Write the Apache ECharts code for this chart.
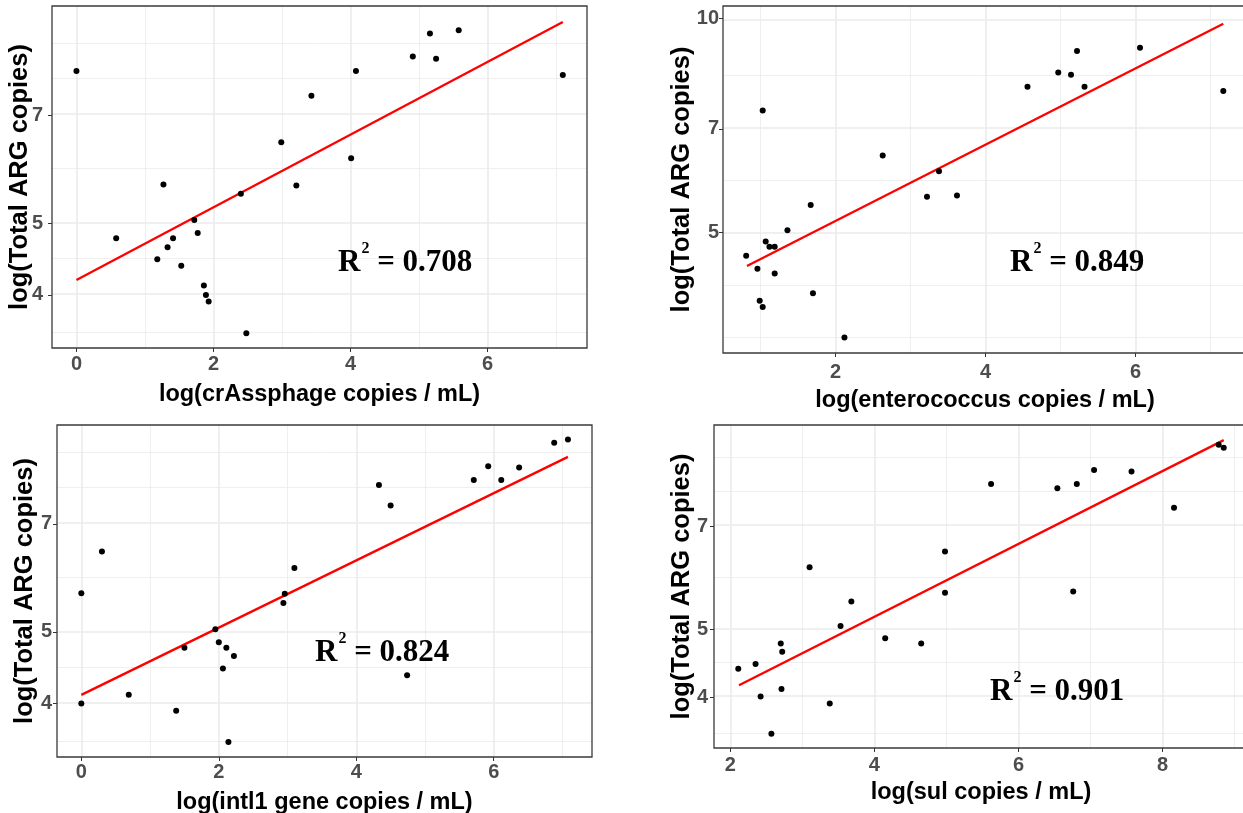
<!DOCTYPE html>
<html><head><meta charset="utf-8">
<script src="https://cdn.jsdelivr.net/npm/echarts@6/dist/echarts.min.js"></script>
<style>html,body{margin:0;padding:0;background:#fff}#c{width:1243px;height:813px}</style>
</head><body><div id="c"></div><script>
// ---------- DATA ----------
const yTitle = 'log(Total ARG copies)';

// Panel 1: crAssphage
const p1XName = 'log(crAssphage copies / mL)';
const p1X = [0, 0.58, 1.27, 1.18, 1.33, 1.41, 1.53, 1.72, 1.77, 1.86, 1.89, 1.93, 2.40, 2.48, 2.99, 3.21, 3.43, 4.01, 4.08, 4.91, 5.16, 5.25, 5.58, 7.10];
const p1Y = [8.03, 4.77, 5.64, 4.47, 4.64, 4.77, 4.38, 5.05, 4.85, 4.12, 4.00, 3.92, 5.48, 3.55, 6.43, 5.62, 7.43, 6.12, 8.03, 8.40, 9.02, 8.34, 9.11, 7.93];
const p1FitX = [0, 7.10];
const p1FitY = [4.19, 9.35];
const p1XTicks = [0, 2, 4, 6];
const p1YTicks = [4, 5, 7];
const p1XLim = [-0.357, 7.453];
const p1YLim = [3.391, 9.826];
const p1R2 = '0.708';

// Panel 2: enterococcus
const p2XName = 'log(enterococcus copies / mL)';
const p2X = [0.81, 0.96, 0.99, 1.03, 1.03, 1.07, 1.12, 1.19, 1.19, 1.36, 1.67, 1.70, 2.12, 2.63, 3.22, 3.38, 3.62, 4.56, 4.97, 5.14, 5.22, 5.32, 6.06, 7.17];
const p2Y = [4.64, 4.45, 4.01, 3.93, 7.43, 4.86, 4.78, 4.78, 4.38, 5.04, 5.47, 4.11, 3.56, 6.42, 5.62, 6.10, 5.64, 8.02, 8.40, 8.34, 9.01, 8.02, 9.10, 7.91];
const p2FitX = [0.82, 7.17];
const p2FitY = [4.49, 9.84];
const p2XTicks = [2, 4, 6];
const p2YTicks = [5, 7, 10];
const p2XLim = [0.501, 7.486];
const p2YLim = [3.387, 10.42];
const p2R2 = '0.849';

// Panel 3: intl1
const p3XName = 'log(intl1 gene copies / mL)';
const p3X = [0, 0, 0.30, 0.69, 1.38, 1.50, 1.95, 2.00, 2.06, 2.11, 2.14, 2.22, 2.94, 2.96, 3.10, 4.33, 4.50, 4.74, 5.71, 5.92, 6.11, 6.37, 6.88, 7.08];
const p3Y = [5.64, 4.00, 6.42, 4.11, 3.91, 4.76, 5.04, 4.84, 4.46, 4.76, 3.55, 4.64, 5.47, 5.63, 6.10, 7.90, 7.41, 4.37, 8.02, 8.37, 8.02, 8.34, 9.01, 9.10];
const p3FitX = [0, 7.08];
const p3FitY = [4.11, 8.62];
const p3XTicks = [0, 2, 4, 6];
const p3YTicks = [4, 5, 7];
const p3XLim = [-0.354, 7.43];
const p3YLim = [3.387, 9.52];
const p3R2 = '0.824';

// Panel 4: sul
const p4XName = 'log(sul copies / mL)';
const p4X = [2.11, 2.35, 2.42, 2.57, 2.70, 2.72, 2.71, 3.10, 3.38, 3.53, 3.68, 4.15, 4.65, 4.98, 4.98, 5.62, 6.54, 6.76, 6.81, 7.05, 7.57, 8.16, 8.78, 8.85];
const p4Y = [4.39, 4.46, 4.01, 3.55, 4.77, 4.64, 4.11, 6.12, 3.92, 5.05, 5.47, 4.85, 4.77, 6.44, 5.63, 8.03, 7.92, 5.65, 8.03, 8.41, 8.37, 7.43, 9.13, 9.04];
const p4FitX = [2.12, 8.85];
const p4FitY = [4.16, 9.27];
const p4XTicks = [2, 4, 6, 8];
const p4YTicks = [4, 5, 7];
const p4XLim = [1.773, 9.187];
const p4YLim = [3.389, 9.74];
const p4R2 = '0.901';

// ---------- LAYOUT ----------
const layout = [
  {grid: {left: 52, top: 6, width: 535, height: 342}, yGap: 19, yLabM: 9, xLabM: 6, xGap: 35, r2: [338, 262.5]},
  {grid: {left: 723, top: 6, width: 524, height: 347}, yGap: 28, yLabM: 4, xLabM: 9, xGap: 36, r2: [1010, 262.5]},
  {grid: {left: 57, top: 425, width: 535, height: 332}, yGap: 19, yLabM: 5, xLabM: 5, xGap: 34, r2: [315, 652.5]},
  {grid: {left: 714, top: 425, width: 534, height: 323}, yGap: 19, yLabM: 6, xLabM: 7, xGap: 33, r2: [990, 691.5]}
];

const panels = [
  {x: p1X, y: p1Y, fx: p1FitX, fy: p1FitY, xt: p1XTicks, yt: p1YTicks, xl: p1XLim, yl: p1YLim, xName: p1XName, r2: p1R2},
  {x: p2X, y: p2Y, fx: p2FitX, fy: p2FitY, xt: p2XTicks, yt: p2YTicks, xl: p2XLim, yl: p2YLim, xName: p2XName, r2: p2R2},
  {x: p3X, y: p3Y, fx: p3FitX, fy: p3FitY, xt: p3XTicks, yt: p3YTicks, xl: p3XLim, yl: p3YLim, xName: p3XName, r2: p3R2},
  {x: p4X, y: p4Y, fx: p4FitX, fy: p4FitY, xt: p4XTicks, yt: p4YTicks, xl: p4XLim, yl: p4YLim, xName: p4XName, r2: p4R2}
];

const T = Math.log;   // y axis is a log scale
const GRID_C = '#EBEBEB';
const INK = '#333333';
const LABEL_FONT = "'Liberation Sans Narrow', 'Liberation Sans', Arial, sans-serif";
const TITLE_FONT = "'Liberation Sans', Arial, sans-serif";

// ggplot2-like minor breaks (midpoints between majors, extended by first interval)
function minorBreaks(maj, lo, hi) {
  const b = maj.slice();
  const bd = b[1] - b[0];
  if (lo < b[0]) b.unshift(b[0] - bd);
  if (hi > b[b.length - 1]) b.push(b[b.length - 1] + bd);
  const out = [];
  for (let i = 0; i < b.length - 1; i++) { out.push(b[i], (b[i] + b[i + 1]) / 2); }
  out.push(b[b.length - 1]);
  return out.filter(v => v > lo + 1e-9 && v < hi - 1e-9 && !maj.some(m => Math.abs(m - v) < 1e-9));
}

const option = {animation: false, grid: [], xAxis: [], yAxis: [], series: [], graphic: []};

panels.forEach((p, i) => {
  const L = layout[i];
  option.grid.push(Object.assign({show: true, borderColor: '#3a3a3a', borderWidth: 1.3, backgroundColor: 'transparent', containLabel: false, outerBoundsMode: 'none', z: 6}, L.grid));

  const yMaj = p.yt.map(T);
  const yLo = T(p.yl[0]), yHi = T(p.yl[1]);
  option.xAxis.push({
    type: 'value', gridIndex: i, min: p.xl[0], max: p.xl[1], position: 'bottom',
    axisLine: {show: false, onZero: false},
    axisTick: {show: true, inside: false, length: 4, lineStyle: {color: INK, width: 1}, customValues: p.xt},
    axisLabel: {customValues: p.xt, margin: L.xLabM, color: '#4D4D4D', fontWeight: 'bold', fontSize: 20, fontFamily: LABEL_FONT},
    splitLine: {show: false},
    name: p.xName, nameLocation: 'middle', nameGap: L.xGap, nameMoveOverlap: false,
    nameTextStyle: {color: '#000', fontWeight: 'bold', fontSize: 23.5, fontFamily: TITLE_FONT}
  });
  option.yAxis.push({
    type: 'value', gridIndex: i, min: yLo, max: yHi, position: 'left',
    axisLine: {show: false, onZero: false},
    axisTick: {show: true, inside: false, length: 4, lineStyle: {color: INK, width: 1}, customValues: yMaj},
    axisLabel: {customValues: yMaj, margin: L.yLabM, color: '#4D4D4D', fontWeight: 'bold', fontSize: 20, fontFamily: LABEL_FONT,
      formatter: v => String(Math.round(Math.exp(v)))},
    splitLine: {show: false},
    name: yTitle, nameLocation: 'middle', nameGap: L.yGap, nameRotate: 90, nameMoveOverlap: false,
    nameTextStyle: {color: '#000', fontWeight: 'bold', fontSize: 25.5, fontFamily: TITLE_FONT}
  });

  const gl = [];
  minorBreaks(yMaj, yLo, yHi).forEach(v => gl.push({yAxis: v, lineStyle: {color: GRID_C, width: 0.8, type: 'solid'}}));
  minorBreaks(p.xt, p.xl[0], p.xl[1]).forEach(v => gl.push({xAxis: v, lineStyle: {color: GRID_C, width: 0.8, type: 'solid'}}));
  yMaj.forEach(v => gl.push({yAxis: v, lineStyle: {color: GRID_C, width: 1.6, type: 'solid'}}));
  p.xt.forEach(v => gl.push({xAxis: v, lineStyle: {color: GRID_C, width: 1.6, type: 'solid'}}));

  option.series.push({
    type: 'scatter', xAxisIndex: i, yAxisIndex: i, z: 4,
    symbol: 'circle', symbolSize: 6, itemStyle: {color: '#000', opacity: 1},
    data: p.x.map((xv, k) => [xv, T(p.y[k])]),
    markLine: {silent: true, z: 1, symbol: ['none', 'none'], label: {show: false}, animation: false, emphasis: {disabled: true}, data: gl}
  });
  option.series.push({
    type: 'line', xAxisIndex: i, yAxisIndex: i, z: 3,
    symbol: 'none', showSymbol: false, silent: true,
    lineStyle: {color: '#FF0000', width: 2.3},
    data: p.fx.map((xv, k) => [xv, T(p.fy[k])])
  });

  option.graphic.push({
    type: 'text', x: L.r2[0], y: L.r2[1], silent: true, z: 10,
    style: {
      text: '{r|R}{s|2}{r| = ' + p.r2 + '}',
      verticalAlign: 'middle', align: 'left',
      rich: {
        r: {fontSize: 31, fontWeight: 'bold', fontFamily: "'Liberation Serif', 'Times New Roman', serif", fill: '#000', lineHeight: 44},
        s: {fontSize: 16, fontWeight: 'bold', fontFamily: "'Liberation Serif', 'Times New Roman', serif", fill: '#000', verticalAlign: 'top', padding: [0, 0, 0, 1]}
      }
    }
  });
});

const chart = echarts.init(document.getElementById('c'), null, {renderer: 'canvas'});
chart.setOption(option);
</script></body></html>
